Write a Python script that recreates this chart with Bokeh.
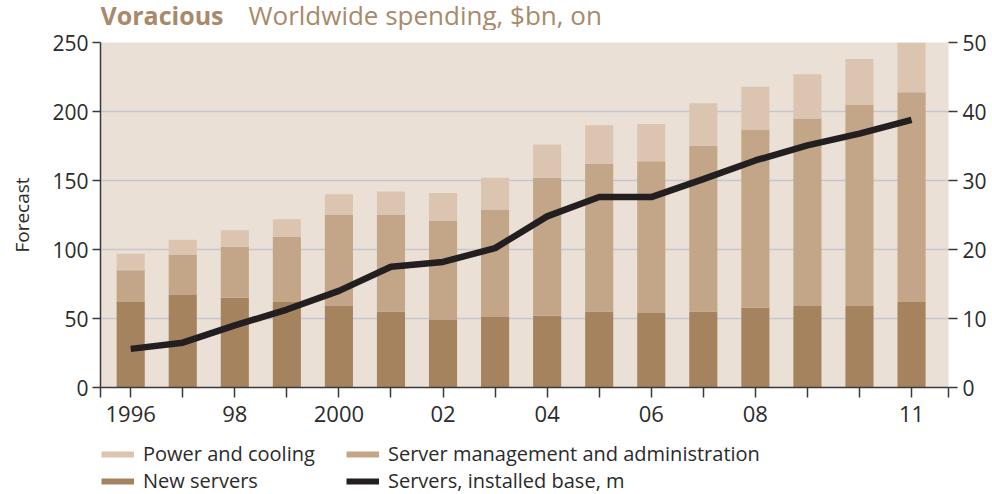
from bokeh.plotting import figure
from bokeh.layouts import column
from bokeh.models import (Range1d, LinearAxis, FixedTicker, Legend, LegendItem,
                          ColumnDataSource)
from bokeh.core.properties import value
from bokeh.embed import file_html
from bokeh.resources import INLINE

# ---------------- data ----------------
years = list(range(1996, 2012))
new_servers = [62, 67, 65, 62, 59, 55, 49, 51, 52, 55, 54, 55, 58, 59, 59, 62]
server_mgmt = [23, 29, 37, 47, 66, 70, 72, 78, 100, 107, 110, 120, 129, 136, 146, 152]
power_cooling = [12, 11, 12, 13, 15, 17, 20, 23, 24, 28, 27, 31, 31, 32, 33, 36]
installed_base = [5.6, 6.5, 9.0, 11.3, 14.0, 17.5, 18.2, 20.2, 24.8, 27.6, 27.6, 30.2,
                  32.9, 35.1, 36.8, 38.8]
x_labels = {1996: "1996", 1998: "98", 2000: "2000", 2002: "02", 2004: "04",
            2006: "06", 2008: "08", 2011: "11"}
left_ticks = [0, 50, 100, 150, 200, 250]
right_ticks = [0, 10, 20, 30, 40, 50]

title_bold = "Voracious"
title_rest = "Worldwide spending, $bn, on"
y_label = "Forecast"
series_names = ["Power and cooling", "Server management and administration",
                "New servers", "Servers, installed base, m"]

# ---------------- style ----------------
FONT = "Open Sans"
BG = "#ebe0d6"
C_NEW = "#a6835f"
C_MGMT = "#c3a587"
C_POWER = "#dbc5b0"
C_LINE = "#231f20"
C_TEXT = "#2b2b2b"
C_TITLE = "#a88a6a"
GRID = "#c4c8ce"
AX = "#3a3a3a"

W = 992
BL, BR = 100, 44          # left / right borders shared by all strips
MT = 12                   # room above the frame for the top tick labels
X0, X1 = 1995.42, 2011.71


def strip(h):
    f = figure(width=W, height=h, output_backend="svg", toolbar_location=None,
               x_range=Range1d(BL, W - BR), y_range=Range1d(0, h), title=None,
               x_axis_location=None, y_axis_location=None,
               min_border_left=BL, min_border_right=BR, min_border_top=0,
               min_border_bottom=0, outline_line_color=None)
    f.grid.visible = False
    f.background_fill_color = "white"
    f.border_fill_color = "white"
    return f


# ---------------- title strip ----------------
TH = 42 - MT
t = strip(TH)
t.text(x=[BL], y=[16], text=[title_bold], text_font=value(FONT),
       text_font_style="bold", text_font_size="25px", text_color=C_TITLE,
       text_baseline="alphabetic")
t.text(x=[248], y=[16], text=[title_rest], text_font=value(FONT),
       text_font_style="normal", text_font_size="26px", text_color=C_TITLE,
       text_baseline="alphabetic")

# ---------------- main chart ----------------
p = figure(width=W, height=388 + MT, output_backend="svg", toolbar_location=None,
           x_range=Range1d(X0, X1), y_range=Range1d(0, 250), title=None,
           min_border_left=BL, min_border_right=BR, min_border_top=MT,
           min_border_bottom=43)
p.background_fill_color = BG
p.border_fill_color = "white"
p.outline_line_color = None
p.extra_y_ranges = {"base": Range1d(0, 50)}

src = ColumnDataSource(dict(year=years, new=new_servers, mgmt=server_mgmt,
                            power=power_cooling, base=installed_base))
p.vbar_stack(["new", "mgmt", "power"], x="year", width=0.54, source=src,
             color=[C_NEW, C_MGMT, C_POWER], line_color=None)
p.line("year", "base", source=src, y_range_name="base", line_color=C_LINE,
       line_width=6.5, line_join="round", line_cap="butt")

p.xgrid.visible = False
p.ygrid.grid_line_color = GRID
p.ygrid.grid_line_width = 1.5
p.ygrid.ticker = FixedTicker(ticks=left_ticks)

xa = p.xaxis[0]
xa.ticker = FixedTicker(ticks=[X0] + years + [X1])
overrides = {y: x_labels.get(y, "") for y in years}
overrides[X0] = ""
overrides[X1] = ""
xa.major_label_overrides = overrides
xa.major_tick_out = 10
xa.major_tick_in = 0
xa.minor_tick_line_color = None
xa.axis_line_color = AX
xa.axis_line_width = 1.5
xa.major_tick_line_color = AX
xa.major_tick_line_width = 1.5
xa.major_label_standoff = 8
xa.major_label_text_font = FONT
xa.major_label_text_font_size = "22px"
xa.major_label_text_color = C_TEXT

ya = p.yaxis[0]
ya.ticker = FixedTicker(ticks=left_ticks)
ya.major_tick_out = 8
ya.major_tick_in = 0
ya.minor_tick_line_color = None
ya.axis_line_color = AX
ya.axis_line_width = 1.5
ya.major_tick_line_color = AX
ya.major_tick_line_width = 1.5
ya.major_label_standoff = 4
ya.major_label_text_font = FONT
ya.major_label_text_font_size = "21px"
ya.major_label_text_color = C_TEXT
ya.axis_label = y_label
ya.axis_label_text_font = FONT
ya.axis_label_text_font_style = "normal"
ya.axis_label_text_font_size = "19px"
ya.axis_label_text_color = C_TEXT
ya.axis_label_standoff = 14

ra = LinearAxis(y_range_name="base", ticker=FixedTicker(ticks=right_ticks))
ra.axis_line_color = None
ra.major_tick_out = 9
ra.major_tick_in = 0
ra.minor_tick_line_color = None
ra.major_tick_line_color = AX
ra.major_tick_line_width = 1.5
ra.major_label_standoff = 5
ra.major_label_text_font = FONT
ra.major_label_text_font_size = "21px"
ra.major_label_text_color = C_TEXT
p.add_layout(ra, "right")

# ---------------- legend strip ----------------
LH = 64
lg = strip(LH)
sw = {}
for name, col in zip(series_names, [C_POWER, C_MGMT, C_NEW, C_LINE]):
    sw[name] = lg.line(x=[0, 1], y=[-50, -50], line_color=col, line_width=6)

legend = Legend(items=[LegendItem(label=n, renderers=[sw[n]]) for n in series_names],
                orientation="horizontal", ncols=2, location=(1, 0),
                glyph_width=33, glyph_height=20, label_height=20, label_width=203,
                label_standoff=9, spacing=0, padding=0, margin=0,
                label_text_font=FONT, label_text_font_size="20px",
                label_text_color=C_TEXT, background_fill_alpha=0,
                border_line_color=None)
lg.add_layout(legend, "center")

layout = column(t, p, lg, spacing=0)
open("out.html", "w").write(file_html(layout, INLINE))
